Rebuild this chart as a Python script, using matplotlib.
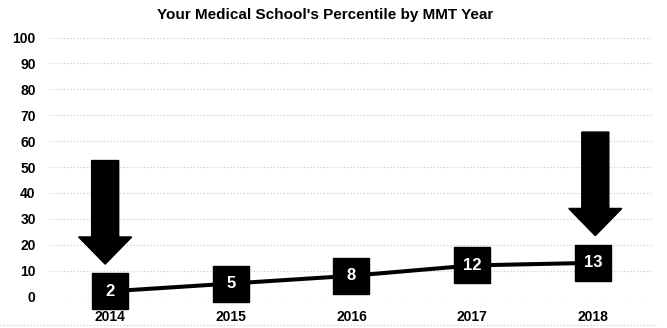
import matplotlib
matplotlib.use("Agg")
import matplotlib.pyplot as plt
from matplotlib.lines import Line2D

years       = ["2014", "2015", "2016", "2017", "2018"]
percentiles = [2, 5, 8, 12, 13]
y_ticks     = list(range(0, 101, 10))

# arrows point down at the first and the last year
arrow_idx   = [0, 4]
arrow_shift = [-0.04, 0.02]   # small sideways nudge, in category units
arrow_gap   = 10.5            # tip sits this far above the point
arrow_len   = 40

plt.rcParams['font.family'] = ['Liberation Sans', 'DejaVu Sans']

fig = plt.figure(figsize=(6.67, 3.28), dpi=100)
ax = fig.add_axes([0.0744, 0.096, 0.905, 0.7896])

x = list(range(len(years)))
ax.plot(x, percentiles, color="black", lw=2.9, zorder=3, solid_capstyle="butt")
ax.plot(x, percentiles, linestyle="none", marker="s", markersize=26.5,
        color="black", zorder=4, clip_on=False)
for xi, v in zip(x, percentiles):
    ax.text(xi, v, str(v), color="white", fontsize=12, fontweight="bold",
            ha="center", va="center", zorder=5)

for i, dxs in zip(arrow_idx, arrow_shift):
    tip = percentiles[i] + arrow_gap
    ax.arrow(i + dxs, tip + arrow_len, 0, -arrow_len, width=0.224,
             head_width=0.44, head_length=10.5, length_includes_head=True,
             color="black", zorder=6, clip_on=False)

ax.set_xlim(-0.5, len(years) - 0.5)
ax.set_ylim(0, 100)
ax.set_xticks(x)
ax.set_xticklabels(years, fontsize=10, fontweight="bold")
ax.set_yticks(y_ticks)
ax.set_yticklabels([str(t) for t in y_ticks], fontsize=10, fontweight="bold")
ax.tick_params(axis="both", length=0)
ax.tick_params(axis="x", pad=9.5)
ax.tick_params(axis="y", pad=10)

ax.yaxis.grid(True, color="#c4c4c4", linestyle=(0, (1, 2)), lw=0.8)
ax.set_axisbelow(True)
for s in ax.spines.values():
    s.set_visible(False)

fig.text(325 / 667, 1 - 15 / 328, "Your Medical School's Percentile by MMT Year",
         ha="center", va="center", fontsize=11, fontweight="bold")

# faint dotted rule along the bottom edge
fig.add_artist(Line2D([0.0, 0.985], [1 - 325 / 328] * 2, transform=fig.transFigure,
                      color="#c4c4c4", linestyle=(0, (1, 2)), lw=0.8))

fig.savefig("out.png", dpi=100)
